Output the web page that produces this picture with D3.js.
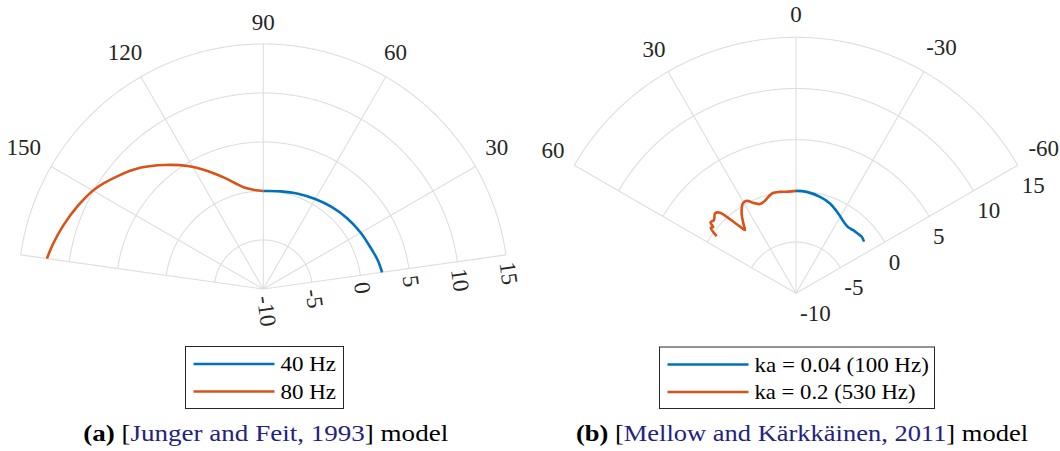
<!DOCTYPE html>
<html><head><meta charset="utf-8">
<script src="https://cdn.jsdelivr.net/npm/d3@7"></script>
<style>
body{margin:0;background:#fff;} svg{display:block;}
svg text{font-family:"Liberation Serif","Times New Roman",Times,"DejaVu Serif","Noto Serif",serif;}
</style>
</head><body><svg id="c" width="1060" height="451"></svg>
<script>
// ---------- data ----------
const rTicks = [-10, -5, 0, 5, 10, 15];
const leftAngleTicks = [30, 60, 90, 120, 150];
const rightAngleTicks = [60, 30, 0, -30, -60];

// (a) Junger and Feit model
const leftTheta40 = [90, 80, 70, 60, 50, 40, 30, 20, 14, 8];
const leftDb40    = [0, 0.12, 0.35, 0.6, 0.9, 1.2, 1.48, 1.77, 2.05, 2.24];
const leftTheta80 = [90, 95, 100.7, 105, 109.4, 115.3, 121.6, 128.6, 135.2, 142.2, 149.4, 155.8, 162.5, 168, 172];
const leftDb80    = [0, 0.15, 0.53, 1.2, 2.05, 3.32, 4.74, 6.19, 7.58, 8.8, 10.0, 10.73, 11.43, 11.95, 12.3];

// (b) Mellow and Kärkkäinen model
const rightTheta100 = [0, -6, -14, -20.7, -27.9, -35, -38.4, -42.2, -46.4, -49.3, -52.8];
const rightDb100    = [0, -0.04, -0.3, -0.62, -1.18, -1.68, -1.78, -1.68, -1.6, -1.53, -1.66];
const rightTheta530 = [0, 4, 9, 13, 16, 18.5, 22, 25.2, 28, 30.6, 34.2, 37, 38.9, 40, 41.7, 43.3, 45.4, 48.2, 50.3, 51.4, 52.4, 54.2];
const rightDb530    = [0, -0.05, 0.03, 0.05, -0.2, -0.46, -0.6, -0.24, 0.24, 0.2, -0.56, -1.45, -2.06, -1.5, -0.32, 0.82, 1.11, 0.74, 0.85, 0.35, 0.5, -0.45];

const leftLegend = ["40 Hz", "80 Hz"];
const rightLegend = ["ka = 0.04 (100 Hz)", "ka = 0.2 (530 Hz)"];

// ---------- style ----------
const BLUE = "#0072BD", RED = "#D95319", GRID = "#dedede", TXT = "#262626";
const svg = d3.select("#c");

function polar(cfg) {
  const g = svg.append("g");
  const rs = d3.scaleLinear().domain([-10, 15]).range([0, cfg.R]);
  const A = cfg.toA; // degrees -> radians for lineRadial (0 at top, clockwise)
  const pt = (th, v) => { const a = A(th), r = rs(v); return [cfg.cx + r * Math.sin(a), cfg.cy - r * Math.cos(a)]; };
  const gg = g.append("g").attr("transform", `translate(${cfg.cx},${cfg.cy})`);
  const samples = d3.range(cfg.thMin, cfg.thMax + 0.001, 0.5);
  // rings
  rTicks.slice(1).forEach(v => {
    gg.append("path")
      .attr("d", d3.lineRadial().angle(t => A(t)).radius(() => rs(v))(samples))
      .attr("fill", "none").attr("stroke", GRID).attr("stroke-width", 1.1);
  });
  // spokes
  const spokes = Array.from(new Set([cfg.thMin, ...cfg.angleTicks, cfg.thMax]));
  spokes.forEach(t => {
    const a = A(t);
    gg.append("line").attr("x1", 0).attr("y1", 0)
      .attr("x2", rs(15) * Math.sin(a)).attr("y2", -rs(15) * Math.cos(a))
      .attr("stroke", GRID).attr("stroke-width", 1.1);
  });
  // angle labels
  cfg.angleTicks.forEach(t => {
    const a = A(t), ux = Math.sin(a), uy = -Math.cos(a);
    const side = Math.abs(ux) < 1e-6 ? 0 : Math.sign(ux);
    const txt = g.append("text").text(String(t))
      .attr("font-size", 23).attr("fill", TXT)
      .attr("text-anchor", "middle").attr("dominant-baseline", "central");
    const rr = cfg.R + cfg.labBase + cfg.labK * Math.abs(ux) + (String(t).startsWith("-") ? cfg.labHy : 0);
    const dx = (side !== 0 ? cfg.labDx : 0) + cfg.labKx * side * (1 - ux * ux);
    const dy = -cfg.labKy * ux * ux;
    txt.attr("x", cfg.cx + rr * ux + dx).attr("y", cfg.cy + rr * uy + dy);
  });
  // radial labels
  rTicks.forEach(v => cfg.rLabel(g, v, pt));
  // data lines
  cfg.series.forEach(s => {
    const data = s.theta.map((t, i) => [A(t), rs(s.db[i])]);
    gg.append("path")
      .attr("d", d3.lineRadial().angle(d => d[0]).radius(d => d[1]).curve(d3.curveCatmullRom.alpha(0.5))(data))
      .attr("fill", "none").attr("stroke", s.color).attr("stroke-width", 2.6)
      .attr("stroke-linejoin", "round");
  });
}

// (a)
polar({
  cx: 263.3, cy: 289, R: 245, thMin: 8, thMax: 172,
  toA: t => (90 - t) * Math.PI / 180,
  angleTicks: leftAngleTicks,
  labBase: 22, labK: 7, labHy: 0, labDx: -3, labKx: 0, labKy: 7,
  series: [
    { theta: leftTheta40, db: leftDb40, color: BLUE },
    { theta: leftTheta80, db: leftDb80, color: RED }
  ],
  rLabel: (g, v, pt) => {
    const [x, y] = pt(8, v);
    const th = 8 * Math.PI / 180, gap = 7;
    const px = x + gap * Math.sin(th), py = y + gap * Math.cos(th);
    g.append("text").text(v).attr("font-size", 23).attr("fill", TXT)
      .attr("text-anchor", "start").attr("dominant-baseline", "central")
      .attr("transform", `translate(${px},${py}) rotate(82)`);
  }
});

// (b)
polar({
  cx: 796, cy: 293.3, R: 256, thMin: -60, thMax: 60,
  toA: t => -t * Math.PI / 180,
  angleTicks: rightAngleTicks,
  labBase: 23, labK: 2, labHy: 3, labDx: 1, labKx: 4, labKy: 3.5,
  series: [
    { theta: rightTheta100, db: rightDb100, color: BLUE },
    { theta: rightTheta530, db: rightDb530, color: RED }
  ],
  rLabel: (g, v, pt) => {
    const [x, y] = pt(-60, v);
    g.append("text").text(v).attr("font-size", 23).attr("fill", TXT)
      .attr("text-anchor", "start").attr("dominant-baseline", "central")
      .attr("x", x + 4).attr("y", y + 20);
  }
});

// legends
function legend(x0, y0, w, h, labels, textW) {
  const g = svg.append("g");
  g.append("rect").attr("x", x0).attr("y", y0).attr("width", w).attr("height", h)
    .attr("fill", "#fff").attr("stroke", TXT).attr("stroke-width", 1);
  const ly = d3.scalePoint().domain(labels).range([y0 + 17.5, y0 + 45]);
  const colors = [BLUE, RED];
  labels.forEach((l, i) => {
    g.append("line").attr("x1", x0 + 8).attr("x2", x0 + 89).attr("y1", ly(l)).attr("y2", ly(l))
      .attr("stroke", colors[i]).attr("stroke-width", 2.6);
    const t = g.append("text").text(l).attr("x", x0 + 95).attr("y", ly(l))
      .attr("font-size", 21).attr("fill", "#000")
      .attr("dominant-baseline", "central");
    if (textW[i]) t.attr("textLength", textW[i]).attr("lengthAdjust", "spacingAndGlyphs");
  });
}
legend(185.5, 346.5, 158, 62, leftLegend, [55.5, 55.5]);
legend(659.5, 347, 275, 61.5, rightLegend, [174.3, 161]);

// captions
function caption(cx, label, cite, width) {
  const t = svg.append("text").attr("x", cx).attr("y", 441).attr("text-anchor", "middle")
    .attr("font-size", 24).attr("fill", "#000")
    .attr("textLength", width).attr("lengthAdjust", "spacingAndGlyphs");
  t.append("tspan").attr("font-weight", "bold").text(label);
  t.append("tspan").text(" [");
  t.append("tspan").attr("fill", "#23237f").text(cite);
  t.append("tspan").text("] model");
}
caption(265.7, "(a)", "Junger and Feit, 1993", 365);
caption(802, "(b)", "Mellow and Kärkkäinen, 2011", 452);
</script></body></html>
